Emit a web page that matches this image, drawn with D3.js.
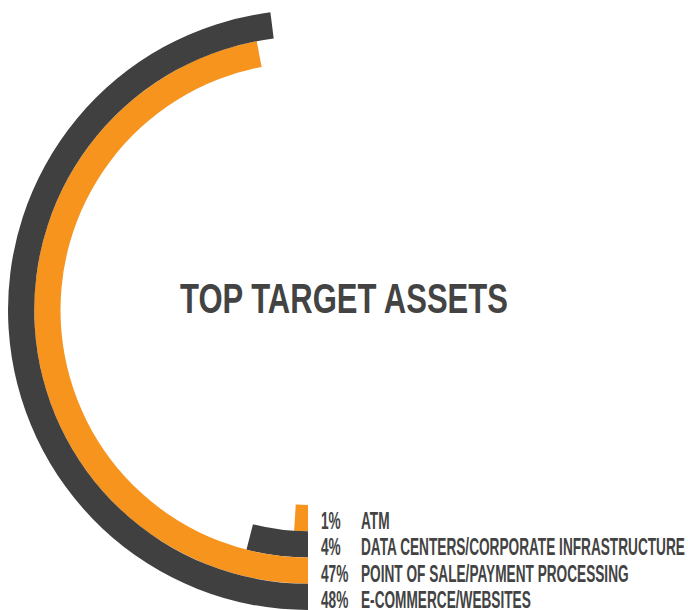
<!DOCTYPE html>
<html>
<head>
  <meta charset="UTF-8">
  <title>Top Target Assets</title>
  <style>
    body { margin: 0; background: #ffffff; }
    svg { display: block; }
    .lbl, .title {
      font-family: "Liberation Sans Narrow", "Liberation Sans", "DejaVu Sans Condensed", sans-serif;
      font-weight: bold;
      fill: #434343;
    }
  </style>
</head>
<body>
  <div id="chart"></div>
  <script src="https://d3js.org/d3.v7.min.js"></script>
  <script>
    // data, from inner ring to outer ring
    const categories = ["ATM", "DATA CENTERS/CORPORATE INFRASTRUCTURE", "POINT OF SALE/PAYMENT PROCESSING", "E-COMMERCE/WEBSITES"];
    const percents = [1, 4, 47, 48];
    const ringColors = ["#f7941e", "#404040", "#f7941e", "#404040"];
    const title = "TOP TARGET ASSETS";

    const width = 688, height = 610;
    const cx = 308, cy = 310;

    const svg = d3.select("#chart").append("svg")
      .attr("width", width)
      .attr("height", height);

    // rings
    const r = d3.scaleBand()
      .domain(categories)
      .range([195, 300])
      .padding(0);

    // angle: start at the bottom (pi), go clockwise
    const a = d3.scaleLinear()
      .domain([0, 100])
      .range([Math.PI, 3 * Math.PI]);

    const arc = d3.arc()
      .innerRadius(d => r(d.cat))
      .outerRadius(d => r(d.cat) + r.bandwidth())
      .startAngle(a(0))
      .endAngle(d => a(d.val));

    const rows = categories.map((c, i) => ({ cat: c, val: percents[i], color: ringColors[i] }));

    const g = svg.append("g").attr("transform", `translate(${cx},${cy})`);
    g.selectAll("path")
      .data(rows)
      .enter()
      .append("path")
      .attr("d", arc)
      .attr("fill", d => d.color);

    // labels to the right of the ring starts
    const lab = svg.append("g").attr("transform", `translate(321,${cy})`);
    const row = lab.selectAll("g.row")
      .data(rows)
      .enter()
      .append("g")
      .attr("class", "row");

    row.append("text")
      .attr("class", "lbl pct")
      .attr("font-size", 23)
      .text(d => d.val + "%");

    row.append("text")
      .attr("class", "lbl name")
      .attr("font-size", 23)
      .text(d => d.cat);

    // squeeze the text so the longest name fits the space to the right
    let longest = 0;
    row.selectAll("text.name").each(function() { longest = Math.max(longest, this.getComputedTextLength()); });
    const sx = Math.min(1, 324 / longest);
    row.attr("transform", d => `translate(0,${r(d.cat) + r.bandwidth() / 2 + 11}) scale(${sx},1)`);
    row.selectAll("text.name").attr("x", 40 / sx);

    // centre title
    const t = svg.append("text")
      .attr("class", "title")
      .attr("font-size", 42)
      .text(title);
    const tx = 328 / t.node().getComputedTextLength();
    t.attr("transform", `translate(180,313) scale(${tx},1)`);
  </script>
</body>
</html>
